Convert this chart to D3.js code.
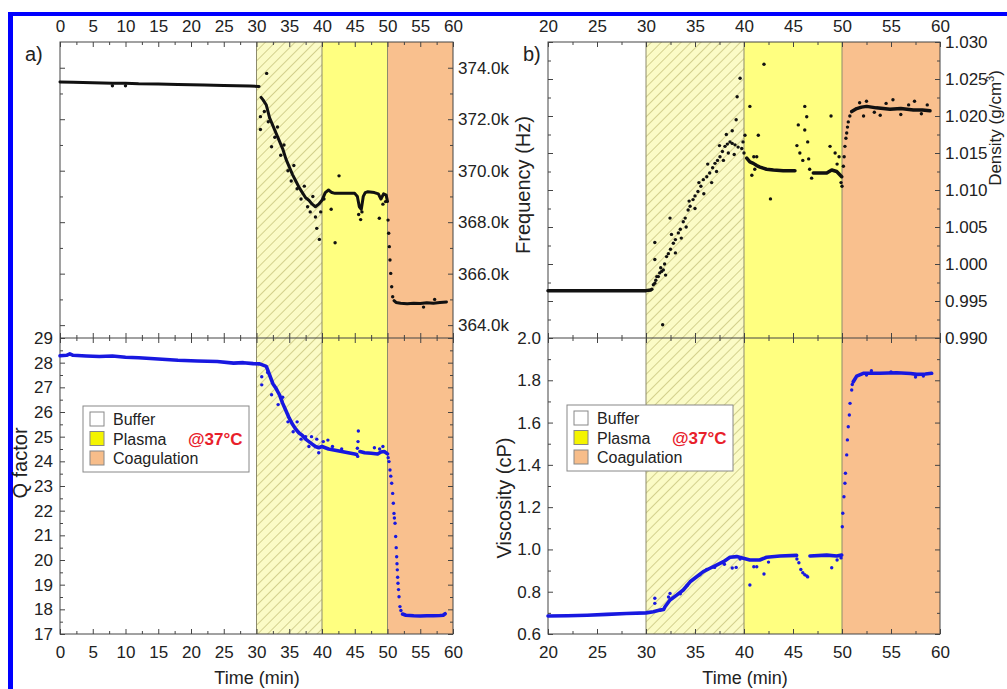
<!DOCTYPE html>
<html>
<head>
<meta charset="utf-8">
<script src="https://cdn.jsdelivr.net/npm/d3@7"></script>
<style>
  body { margin: 0; background: #fff; }
  svg { font-family: "Liberation Sans", Arial, sans-serif; }
  .axis text { font-size: 17px; fill: #222; }
  .axis line { stroke: #444; }
  .axis .domain { display: none; }
</style>
</head>
<body>
<svg width="1007" height="689"></svg>
<script>
// ---- data ----
// phases
const phaseNames = ["Buffer", "Plasma", "Coagulation"];
const phaseStart = [30, 40, 50];
const phaseEnd = [40, 50, 60];

// ticks
const timeTicksA = [0, 5, 10, 15, 20, 25, 30, 35, 40, 45, 50, 55, 60];
const timeMinorA = [2.5, 7.5, 12.5, 17.5, 22.5, 27.5, 32.5, 37.5, 42.5, 47.5, 52.5, 57.5];
const timeTicksB = [20, 25, 30, 35, 40, 45, 50, 55, 60];
const timeMinorB = [22.5, 27.5, 32.5, 37.5, 42.5, 47.5, 52.5, 57.5];
const freqTicks = [364, 366, 368, 370, 372, 374];
const freqMinor = [365, 367, 369, 371, 373];
const qTicks = [17, 18, 19, 20, 21, 22, 23, 24, 25, 26, 27, 28, 29];
const qMinor = [17.5, 18.5, 19.5, 20.5, 21.5, 22.5, 23.5, 24.5, 25.5, 26.5, 27.5, 28.5];
const densTicks = [0.990, 0.995, 1.000, 1.005, 1.010, 1.015, 1.020, 1.025, 1.030];
const densMinor = [0.9925, 0.9975, 1.0025, 1.0075, 1.0125, 1.0175, 1.0225, 1.0275];
const viscTicks = [0.6, 0.8, 1.0, 1.2, 1.4, 1.6, 1.8, 2.0];
const viscMinor = [0.7, 0.9, 1.1, 1.3, 1.5, 1.7, 1.9];

// a) frequency (kHz), dense trace + single points
const freqTime = [0, 2, 5, 8, 10, 12, 15, 18, 20, 22, 25, 27, 29, 30.4, 30.5, 30.7, 31.0, 31.5, 32.0, 32.5,
  33.0, 33.5, 34.0, 34.5, 35.0, 35.5, 36.0, 36.5, 37.0, 37.5, 38.0, 38.5, 39.0, 39.5, 40.0, 40.5, 41.0, 41.5,
  42.0, 43.0, 44.0, 45.0, 45.4, 45.7, 46.0, 46.3, 46.6, 47.0, 48.0, 48.6, 49.0, 49.4, 49.8, 50.0, 50.05,
  51.0, 51.3, 52, 53, 54, 55, 56, 57, 58, 59];
const freqKHz = [373.45, 373.44, 373.42, 373.40, 373.40, 373.38, 373.37, 373.35, 373.34, 373.33, 373.31,
  373.30, 373.29, 373.27, NaN, 372.85, 372.75, 372.55, 372.05, 371.75, 371.45, 371.15, 370.85, 370.45, 370.15,
  369.85, 369.6, 369.35, 369.15, 368.95, 368.85, 368.7, 368.6, 368.7, 368.85, 369.15, 369.25, 369.15, 369.12,
  369.12, 369.12, 369.12, 369.0, 368.6, 368.5, 369.0, 369.15, 369.18, 369.15, 369.1, 368.9, 369.1, 369.05,
  368.8, NaN, 364.95, 364.88, 364.85, 364.83, 364.85, 364.84, 364.87, 364.85, 364.88, 364.9];
const freqDotTime = [30.6, 30.6, 31.55, 32.3, 31.2, 31.8, 32.8, 33.2, 33.7, 34.2, 34.8, 35.3, 35.7, 36.2, 36.8,
  37.3, 37.8, 38.2, 38.6, 39.2, 39.6, 39.0, 39.8, 40.3, 41.4, 42.0, 42.6, 45.6, 45.9, 46.1, 48.75, 49.3, 49.7,
  50.08, 50.18, 50.28, 50.38, 50.49, 50.64, 50.79, 55.5, 57.2, 8.0, 10.0];
const freqDotKHz = [372.1, 371.6, 373.78, 370.93, 372.3, 371.9, 371.3, 371.7, 370.6, 371.0, 370.0, 369.6, 370.2,
  369.3, 368.9, 369.4, 368.6, 368.4, 369.0, 367.76, 367.33, 368.2, 368.4, 368.9, 368.5, 367.2, 369.8, 368.3,
  368.1, 368.4, 368.15, 368.7, 368.8, 368.08, 367.57, 367.05, 366.53, 366.01, 365.49, 365.1, 364.7, 365.0,
  373.3, 373.3];

// a) Q factor
const qTime = [0, 1, 1.5, 2, 4, 6, 8, 10, 12, 15, 18, 21, 24, 26.5, 28, 29.5, 30.5, 31.0, 31.5, 32.0, 32.5,
  33.0, 33.5, 34.0, 34.5, 35.0, 35.5, 36.0, 36.5, 37.0, 37.5, 38.0, 38.5, 39.0, 39.5, 40.0, 40.5, 41.0, 42.0,
  43.0, 44.0, 45.0, 45.3, 45.5, 45.8, 46.5, 47.5, 48.5, 49.0, 49.5, 50.0, 50.1, 52.3, 52.8, 54, 55, 56, 57, 58,
  58.5, 58.8];
const qVal = [28.28, 28.3, 28.36, 28.3, 28.27, 28.25, 28.27, 28.22, 28.2, 28.15, 28.1, 28.07, 28.05, 27.98,
  28.0, 27.96, 27.95, 27.9, 27.85, 27.5, 27.15, 26.95, 26.7, 26.35, 26.05, 25.75, 25.5, 25.3, 25.15, 25.05,
  24.9, 24.8, 24.7, 24.6, 24.55, 24.6, 24.55, 24.5, 24.45, 24.4, 24.35, 24.3, 24.28, NaN, 24.4, 24.35, 24.33,
  24.3, 24.38, 24.4, 24.3, NaN, 17.81, 17.76, 17.74, 17.73, 17.74, 17.74, 17.75, 17.76, 17.82];
const qDotTime = [30.8, 30.8, 32.3, 31.7, 33.3, 34.0, 34.8, 35.6, 36.2, 36.8, 37.5, 38.0, 38.4, 39.2, 39.5,
  40.2, 40.9, 41.6, 43.0, 45.4, 45.5, 45.55, 45.45, 48.0, 48.8, 49.3, 50.23, 50.38, 50.64, 50.79, 50.89, 50.99,
  51.15, 51.25, 51.4, 51.5, 51.6, 51.76, 51.9, 50.1, 50.5, 51.05, 51.33, 51.45, 51.55, 51.68, 52.05];
const qDotVal = [27.43, 27.1, 26.7, 27.6, 26.3, 26.6, 25.6, 25.2, 25.6, 24.9, 25.0, 24.6, 25.0, 24.9, 24.35,
  24.8, 24.86, 24.6, 24.5, 24.53, 24.8, 25.23, 24.2, 24.55, 24.5, 24.6, 23.99, 23.65, 23.11, 22.7, 22.3, 21.89,
  21.49, 20.95, 20.13, 19.6, 19.06, 18.51, 18.11, 24.15, 23.4, 21.7, 20.5, 19.85, 19.3, 18.8, 17.95];

// b) density (g/cm3)
const densTime = [20, 22, 24, 26, 28, 30, 30.5, 30.6, 40.28, 40.6, 40.95, 41.3, 41.63, 42.3, 43, 44, 45.2, 45.3,
  47.07, 48.44, 48.95, 49.46, 49.97, 50.0, 50.99, 51.5, 52.0, 52.52, 53.5, 54.9, 56, 57.28, 58.2, 58.98];
const densVal = [0.9964, 0.9964, 0.9964, 0.9964, 0.9964, 0.9964, 0.9965, NaN, 1.0143, 1.0138, 1.0136, 1.0133,
  1.0131, 1.0128, 1.0127, 1.0126, 1.0126, NaN, 1.0123, 1.0123, 1.0127, 1.0125, 1.0118, NaN, 1.0206, 1.0210,
  1.0212, 1.0213, 1.0211, 1.0209, 1.0210, 1.0208, 1.0208, 1.0207];
const densDotTime = [30.6, 30.75, 30.9, 31.0, 31.1, 31.26, 31.4, 31.6, 31.77, 31.9, 32.1, 32.28, 32.5, 32.79,
  33.0, 33.3, 33.5, 33.8, 34.0, 34.3, 34.5, 34.8, 35.0, 35.3, 35.6, 35.85, 36.2, 36.5, 36.8, 37.04, 37.3, 37.55,
  37.8, 38.06, 38.3, 38.57, 38.8, 39.08, 39.4, 39.77, 40.0,
  30.9, 30.9, 31.7, 32.45, 31.5, 32.0, 32.6, 33.0, 33.6, 34.1, 34.4, 35.0, 35.4, 35.9, 36.3, 36.7, 37.2, 37.5,
  37.9, 38.2, 38.4, 38.8, 39.2, 39.3, 39.6, 39.0, 39.9,
  40.1, 40.6, 41.0, 41.46, 41.3, 42.04, 42.7, 40.8, 41.1, 45.54, 45.4, 45.7, 46.2, 46.4, 46.2, 46.0, 46.5, 46.6,
  46.9, 46.7, 48.88, 48.78, 49.3, 49.7, 49.9, 50.0, 49.5,
  50.14, 50.22, 50.3, 50.4, 50.48, 50.56, 50.64, 50.8,
  51.8, 52.5, 53.3, 54.5, 55.2, 56.0, 56.8, 57.4, 58.1, 58.7, 52.2, 53.9];
const densDotVal = [0.9966, 0.9972, 0.9974, 0.9978, 0.9983, 0.9983, 0.9988, 0.9990, 0.9992, 1.0000, 1.0010,
  1.0014, 1.0020, 1.0028, 1.0033, 1.0042, 1.0047, 1.0057, 1.0062, 1.0073, 1.0078, 1.0087, 1.0092, 1.0098,
  1.0105, 1.0114, 1.0118, 1.0123, 1.0130, 1.0136, 1.0140, 1.0145, 1.0152, 1.0159, 1.0162, 1.0165, 1.0163,
  1.0161, 1.0158, 1.0156, 1.0150,
  1.0029, 1.0006, 0.9918, 1.0062, 0.9995, 0.9985, 1.0040, 1.0015, 1.0035, 1.0050, 1.0085, 1.0075, 1.0110,
  1.0095, 1.0135, 1.0110, 1.0125, 1.0160, 1.0140, 1.0175, 1.0150, 1.0180, 1.0195, 1.0226, 1.0251, 1.0148, 1.0165,
  1.0174, 1.0213, 1.0145, 1.0174, 1.0145, 1.0270, 1.0088, 1.0120, 1.0128, 1.0188, 1.0160, 1.0150, 1.0213,
  1.0199, 1.0181, 1.0140, 1.0165, 1.0142, 1.0116, 1.0128, 1.0200, 1.0159, 1.0150, 1.0145, 1.0110, 1.0105, 1.0135,
  1.0132, 1.0145, 1.0159, 1.0170, 1.0177, 1.0185, 1.0192, 1.0200,
  1.0218, 1.0220, 1.0205, 1.0217, 1.0222, 1.0202, 1.0215, 1.0220, 1.0203, 1.0215, 1.0200, 1.0201];

// b) viscosity (cP)
const viscTime = [20, 22, 24, 26, 28, 30, 30.75, 31.43, 31.8, 31.94, 32.45, 33.13, 33.8, 34.5, 35.17, 35.85,
  36.53, 37.2, 37.9, 38.57, 39.25, 39.93, 40.6, 41.6, 42.3, 43.67, 45.37, 45.4, 46.73, 48.44, 49.46, 49.97, 50.0,
  51.15, 51.5, 52.17, 53.88, 55.58, 57.0, 57.62, 58.5, 59.15];
const viscVal = [0.685, 0.686, 0.689, 0.693, 0.697, 0.700, 0.705, 0.713, 0.716, 0.729, 0.761, 0.784, 0.808,
  0.847, 0.871, 0.895, 0.911, 0.926, 0.942, 0.963, 0.966, 0.958, 0.950, 0.950, 0.963, 0.969, 0.972, NaN, 0.969,
  0.973, 0.969, 0.973, NaN, 1.793, 1.82, 1.833, 1.833, 1.836, 1.832, 1.828, 1.83, 1.833];
const viscDotTime = [30.9, 30.9, 32.45, 32.3, 33.5, 34.2, 35.5, 36.2, 37.0, 38.0, 38.8, 39.2, 39.6, 40.6, 42.04,
  41.0, 41.3, 42.5, 45.4, 45.6, 45.8, 46.0, 46.2, 46.4, 46.5, 48.95, 49.5, 49.9, 50.03, 50.08, 50.2, 50.3, 50.35,
  50.48, 50.55, 50.64, 50.75, 50.82, 50.99, 51.05, 53.0, 55.0, 57.5, 58.3, 52.5];
const viscDotVal = [0.769, 0.745, 0.792, 0.775, 0.79, 0.83, 0.88, 0.905, 0.915, 0.93, 0.912, 0.915, 0.955, 0.832,
  0.884, 0.918, 0.918, 0.94, 0.955, 0.937, 0.905, 0.89, 0.88, 0.875, 0.87, 0.913, 0.95, 0.96, 1.107, 1.171,
  1.249, 1.313, 1.36, 1.447, 1.518, 1.58, 1.636, 1.691, 1.754, 1.78, 1.845, 1.84, 1.815, 1.82, 1.825];

// ---- layout ----
const svg = d3.select("svg");
const plotTop = 42, plotMid = 338, plotBottom = 634;
const phaseFill = ["url(#hatch)", "#ffff80", "#f9c08e"];
const legendFill = ["#ffffff", "#f4f400", "#f7bd8a"];
const black = "#111", blue = "#1818e0";

// hatch for the plasma start
const pat = svg.append("defs").append("pattern")
  .attr("id", "hatch")
  .attr("patternUnits", "userSpaceOnUse")
  .attr("width", 7).attr("height", 7)
  .attr("patternTransform", "rotate(45)");
pat.append("rect").attr("width", 7).attr("height", 7).attr("fill", "#fbfbc6");
pat.append("line").attr("x1", 0).attr("y1", 0).attr("x2", 0).attr("y2", 7)
  .attr("stroke", "#c6c27a").attr("stroke-width", 1.5);

// blue page border
svg.append("rect").attr("x", 8).attr("y", 12).attr("width", 1000).attr("height", 4).attr("fill", "#0000ff");
svg.append("rect").attr("x", 8).attr("y", 12).attr("width", 5).attr("height", 680).attr("fill", "#0000ff");

function tickAxis(axisFn, scale, pos, major, minor, fmt, pad) {
  svg.append("g").attr("class", "axis").attr("transform", pos)
    .call(axisFn(scale).tickValues(major).tickSizeInner(-5).tickSizeOuter(0)
      .tickPadding(pad || 0).tickFormat(fmt || (() => "")));
  svg.append("g").attr("class", "axis").attr("transform", pos)
    .call(axisFn(scale).tickValues(minor).tickSizeInner(-3).tickSizeOuter(0).tickFormat(() => ""));
}

function panel(p) {
  const x = d3.scaleLinear().domain(p.xDomain).range([p.left, p.right]);
  const yTop = d3.scaleLinear().domain(p.topDomain).range([plotMid, plotTop]);
  const yBot = d3.scaleLinear().domain(p.botDomain).range([plotBottom, plotMid]);

  svg.append("g").selectAll("rect").data(phaseStart).join("rect")
    .attr("x", d => x(d)).attr("y", plotTop)
    .attr("width", (d, i) => x(phaseEnd[i]) - x(d))
    .attr("height", plotBottom - plotTop)
    .attr("fill", (d, i) => phaseFill[i]);
  svg.append("g").selectAll("line").data(phaseStart).join("line")
    .attr("x1", d => x(d)).attr("x2", d => x(d))
    .attr("y1", plotTop).attr("y2", plotBottom)
    .attr("stroke", "#8d8b6c").attr("stroke-width", 1);

  svg.append("rect").attr("x", p.left).attr("y", plotTop)
    .attr("width", p.right - p.left).attr("height", plotBottom - plotTop)
    .attr("fill", "none").attr("stroke", "#444");
  svg.append("line").attr("x1", p.left).attr("x2", p.right).attr("y1", plotMid).attr("y2", plotMid)
    .attr("stroke", "#444");

  tickAxis(d3.axisTop, x, `translate(0,${plotTop})`, p.xTicks, p.xMinor, d3.format("d"), 10);
  tickAxis(d3.axisBottom, x, `translate(0,${plotBottom})`, p.xTicks, p.xMinor, d3.format("d"), 12);
  tickAxis(d3.axisBottom, x, `translate(0,${plotMid})`, p.xTicks, p.xMinor, null);
  tickAxis(d3.axisTop, x, `translate(0,${plotMid})`, p.xTicks, p.xMinor, null);
  tickAxis(d3.axisRight, yTop, `translate(${p.right},0)`, p.topTicks, p.topMinor, p.topFmt, 5);
  tickAxis(d3.axisLeft, yTop, `translate(${p.left},0)`, p.topTicks, p.topMinor, null);
  tickAxis(d3.axisLeft, yBot, `translate(${p.left},0)`, p.botTicks, p.botMinor, p.botFmt, 7);
  tickAxis(d3.axisRight, yBot, `translate(${p.right},0)`, p.botTicks, p.botMinor, null);

  return { x, yTop, yBot };
}

function series(x, y, ts, vs, dotT, dotV, color, width) {
  const pts = ts.map((t, i) => [t, vs[i]]);
  const line = d3.line().defined(d => !isNaN(d[1])).x(d => x(d[0])).y(d => y(d[1]));
  svg.append("path").datum(pts).attr("d", line)
    .attr("fill", "none").attr("stroke", color).attr("stroke-width", width)
    .attr("stroke-linejoin", "round").attr("stroke-linecap", "round");
  svg.append("g").selectAll("circle").data(dotT).join("circle")
    .attr("cx", d => x(d)).attr("cy", (d, i) => y(dotV[i]))
    .attr("r", 1.7).attr("fill", color);
}

function legend(lx, ly) {
  const g = svg.append("g").attr("transform", `translate(${lx},${ly})`);
  g.append("rect").attr("width", 166).attr("height", 66).attr("fill", "#fff").attr("stroke", "#888");
  const row = g.selectAll("g").data(phaseNames).join("g")
    .attr("transform", (d, i) => `translate(7,${13 + i * 19.5})`);
  row.append("rect").attr("y", -7).attr("width", 14).attr("height", 14)
    .attr("fill", (d, i) => legendFill[i]).attr("stroke", "#888");
  row.append("text").attr("x", 23).attr("y", 6).attr("font-size", 16).attr("fill", "#222").text(d => d);
  g.append("text").attr("x", 105).attr("y", 39).attr("font-size", 17).attr("font-weight", "bold")
    .attr("fill", "#e8202a").text("@37°C");
}

function label(txt, x, y, size, rotate) {
  const t = svg.append("text").attr("font-size", size).attr("fill", "#222")
    .attr("text-anchor", "middle").text(txt);
  if (rotate) t.attr("transform", `translate(${x},${y}) rotate(-90)`);
  else t.attr("x", x).attr("y", y);
  return t;
}

// ---- panel a ----
const a = panel({
  left: 60, right: 453, xDomain: [0, 60], xTicks: timeTicksA, xMinor: timeMinorA,
  topDomain: [363.5, 375.0], topTicks: freqTicks, topMinor: freqMinor, topFmt: d => d.toFixed(1) + "k",
  botDomain: [17, 29], botTicks: qTicks, botMinor: qMinor, botFmt: d3.format("d")
});
series(a.x, a.yTop, freqTime, freqKHz, freqDotTime, freqDotKHz, black, 3);
series(a.x, a.yBot, qTime, qVal, qDotTime, qDotVal, blue, 3.6);
legend(83, 406);

// ---- panel b ----
const b = panel({
  left: 548, right: 940, xDomain: [20, 60], xTicks: timeTicksB, xMinor: timeMinorB,
  topDomain: [0.990, 1.030], topTicks: densTicks, topMinor: densMinor, topFmt: d3.format(".3f"),
  botDomain: [0.6, 2.0], botTicks: viscTicks, botMinor: viscMinor, botFmt: d3.format(".1f")
});
series(b.x, b.yTop, densTime, densVal, densDotTime, densDotVal, black, 3.5);
series(b.x, b.yBot, viscTime, viscVal, viscDotTime, viscDotVal, blue, 3.6);
legend(567, 405);

// ---- titles ----
label("Time (min)", 257, 684, 18);
label("Time (min)", 745, 684, 18);
label("Q factor", 27, 463, 20, true);
label("Frequency (Hz)", 530, 185, 20, true);
label("Viscosity (cP)", 511, 498, 20, true);
const dens = label("Density (g/cm", 1001, 128, 17, true);
dens.append("tspan").attr("dy", -7).attr("font-size", 11).text("3");
dens.append("tspan").attr("dy", 7).text(")");
svg.append("text").attr("x", 25).attr("y", 61).attr("font-size", 20).attr("fill", "#222").text("a)");
svg.append("text").attr("x", 523).attr("y", 61).attr("font-size", 20).attr("fill", "#222").text("b)");
</script>
</body>
</html>
